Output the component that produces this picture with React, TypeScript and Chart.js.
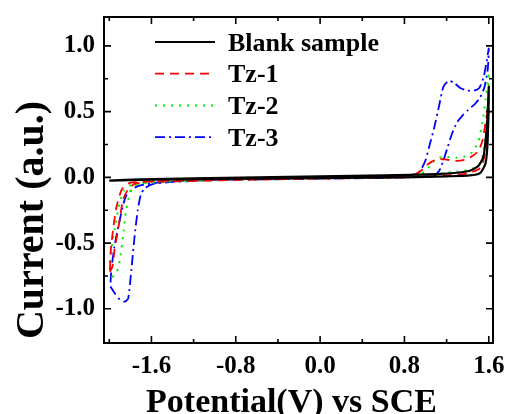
import React, { useEffect, useRef } from "react";
import { Chart, registerables } from "chart.js";
Chart.register(...registerables);

const seriesLabels = ["Blank sample", "Tz-1", "Tz-2", "Tz-3"];
const seriesColors = ["#000000", "#ff0000", "#00ee00", "#0000ff"];
const xTickValues = [-1.6, -0.8, 0.0, 0.8, 1.6];
const xMinorValues = [-2.0, -1.2, -0.4, 0.4, 1.2];
const yTickValues = [-1.0, -0.5, 0.0, 0.5, 1.0];
const yMinorValues = [-0.75, -0.25, 0.25, 0.75];
const xTitle = "Potential(V) vs SCE";
const yTitle = "Current (a.u.)";

const blankX = [-2.0, -1.6, -1.0, -0.4, 0.2, 0.8, 1.2, 1.42, 1.52, 1.57, 1.59, 1.6, 1.59, 1.58, 1.55, 1.5, 1.42, 1.3, 1.1, 0.6, 0.0, -0.6, -1.2, -1.7, -2.0];
const blankY = [-0.025, -0.018, -0.012, -0.008, -0.004, 0.0, 0.008, 0.015, 0.035, 0.11, 0.29, 0.69, 0.5, 0.37, 0.16, 0.086, 0.05, 0.035, 0.025, 0.015, 0.008, 0.0, -0.008, -0.015, -0.025];

const tz1X = [-1.995, -1.97, -1.95, -1.9, -1.87, -1.82, -1.76, -1.6, -1.0, -0.4, 0.2, 0.8, 0.9, 0.95, 1.0, 1.06, 1.12, 1.2, 1.3, 1.38, 1.44, 1.5, 1.54, 1.57, 1.59, 1.6, 1.59, 1.57, 1.54, 1.5, 1.4, 1.2, 1.0, 0.4, -0.2, -0.8, -1.4, -1.7, -1.8, -1.88, -1.93, -1.96, -1.985, -1.995];
const tz1Y = [-0.72, -0.68, -0.55, -0.32, -0.17, -0.09, -0.05, -0.03, -0.018, -0.01, -0.002, 0.012, 0.025, 0.045, 0.085, 0.12, 0.14, 0.135, 0.125, 0.135, 0.16, 0.2, 0.28, 0.42, 0.52, 0.6, 0.4, 0.22, 0.1, 0.06, 0.03, 0.015, 0.005, -0.005, -0.012, -0.02, -0.03, -0.035, -0.04, -0.09, -0.22, -0.37, -0.55, -0.72];

const tz2X = [-1.97, -1.93, -1.9, -1.87, -1.84, -1.8, -1.74, -1.6, -1.0, -0.4, 0.2, 0.8, 0.95, 1.01, 1.06, 1.12, 1.2, 1.3, 1.38, 1.44, 1.5, 1.54, 1.57, 1.59, 1.6, 1.59, 1.57, 1.54, 1.5, 1.42, 1.3, 1.2, 1.0, 0.4, -0.2, -0.8, -1.4, -1.7, -1.8, -1.86, -1.9, -1.95, -1.98, -1.995, -1.985, -1.97];
const tz2Y = [-0.76, -0.72, -0.63, -0.45, -0.25, -0.11, -0.055, -0.035, -0.018, -0.008, 0.0, 0.015, 0.03, 0.05, 0.11, 0.15, 0.155, 0.15, 0.16, 0.19, 0.27, 0.42, 0.6, 0.72, 0.8, 0.55, 0.32, 0.16, 0.09, 0.06, 0.045, 0.035, 0.015, 0.0, -0.01, -0.02, -0.03, -0.045, -0.06, -0.1, -0.19, -0.4, -0.55, -0.66, -0.73, -0.76];

const tz3X = [-1.99, -1.95, -1.9, -1.85, -1.82, -1.79, -1.76, -1.73, -1.7, -1.66, -1.58, -1.4, -1.0, -0.5, 0.0, 0.5, 0.8, 0.9, 0.95, 1.0, 1.04, 1.08, 1.13, 1.17, 1.22, 1.27, 1.33, 1.4, 1.46, 1.51, 1.55, 1.58, 1.6, 1.59, 1.56, 1.52, 1.47, 1.4, 1.35, 1.3, 1.25, 1.21, 1.17, 1.13, 1.08, 1.0, 0.5, 0.0, -0.5, -1.0, -1.4, -1.6, -1.74, -1.84, -1.9, -1.95, -1.98, -1.99];
const tz3Y = [-0.83, -0.88, -0.93, -0.945, -0.92, -0.7, -0.45, -0.25, -0.13, -0.08, -0.05, -0.035, -0.02, -0.01, 0.0, 0.01, 0.015, 0.025, 0.05, 0.13, 0.25, 0.37, 0.55, 0.69, 0.735, 0.72, 0.68, 0.66, 0.66, 0.68, 0.76, 0.88, 0.98, 0.82, 0.69, 0.61, 0.56, 0.51, 0.47, 0.42, 0.33, 0.23, 0.13, 0.05, 0.015, 0.005, -0.005, -0.01, -0.015, -0.02, -0.03, -0.045, -0.07, -0.14, -0.32, -0.52, -0.7, -0.83];

const seriesX = [blankX, tz1X, tz2X, tz3X];
const seriesY = [blankY, tz1Y, tz2Y, tz3Y];
const seriesDash = [[], [9, 6], [2, 6], [10, 4, 2, 4]];
const seriesWidth = [2.2, 1.8, 2, 1.8];

const FONT = "'Liberation Serif', 'Times New Roman', serif";

const decorPlugin = {
  id: "decor",
  afterDraw(chart: any) {
    const { ctx, chartArea: a, scales } = chart;
    const xs = scales.x;
    const ys = scales.y;
    ctx.save();
    ctx.strokeStyle = "#000";
    ctx.setLineDash([]);
    ctx.lineWidth = 2;
    ctx.strokeRect(a.left, a.top, a.right - a.left, a.bottom - a.top);
    ctx.lineWidth = 1.6;
    const xt = (vals: number[], len: number) => {
      vals.forEach((v) => {
        const p = xs.getPixelForValue(v);
        ctx.beginPath();
        ctx.moveTo(p, a.bottom);
        ctx.lineTo(p, a.bottom - len);
        ctx.moveTo(p, a.top);
        ctx.lineTo(p, a.top + len);
        ctx.stroke();
      });
    };
    const yt = (vals: number[], len: number) => {
      vals.forEach((v) => {
        const p = ys.getPixelForValue(v);
        ctx.beginPath();
        ctx.moveTo(a.left, p);
        ctx.lineTo(a.left + len, p);
        ctx.moveTo(a.right, p);
        ctx.lineTo(a.right - len, p);
        ctx.stroke();
      });
    };
    xt(xTickValues, 7);
    xt(xMinorValues, 4);
    yt(yTickValues, 7);
    yt(yMinorValues, 4);

    // legend
    const lx0 = a.left + 51;
    const lx1 = a.left + 111;
    const tx = a.left + 124;
    chart.data.datasets.forEach((ds: any, i: number) => {
      const y = a.top + 25 + i * 31.7;
      ctx.beginPath();
      ctx.strokeStyle = ds.borderColor;
      ctx.lineWidth = ds.borderWidth;
      ctx.setLineDash(ds.borderDash || []);
      ctx.moveTo(lx0, y);
      ctx.lineTo(lx1, y);
      ctx.stroke();
      ctx.setLineDash([]);
      ctx.fillStyle = "#000";
      ctx.font = `bold 26px ${FONT}`;
      ctx.textAlign = "left";
      ctx.textBaseline = "middle";
      ctx.fillText(ds.label, tx, y + 2);
    });

    // axis titles
    ctx.fillStyle = "#000";
    ctx.font = `bold 34px ${FONT}`;
    ctx.textAlign = "center";
    ctx.textBaseline = "alphabetic";
    ctx.fillText(xTitle, (a.left + a.right) / 2 - 7, 412);
    ctx.save();
    ctx.translate(43, 220);
    ctx.rotate(-Math.PI / 2);
    ctx.font = `bold 40px ${FONT}`;
    ctx.fillText(yTitle, 0, 0);
    ctx.restore();
    ctx.restore();
  },
};

export default function App() {
  const ref = useRef<HTMLCanvasElement | null>(null);
  useEffect(() => {
    if (!ref.current) return;
    const datasets = seriesLabels.map((label, i) => ({
      label,
      data: seriesX[i].map((x, j) => ({ x, y: seriesY[i][j] })),
      borderColor: seriesColors[i],
      backgroundColor: seriesColors[i],
      borderWidth: seriesWidth[i],
      borderDash: seriesDash[i],
      pointRadius: 0,
      tension: 0.2,
      fill: false,
    }));
    const chart = new Chart(ref.current, {
      type: "line",
      data: { datasets },
      options: {
        responsive: false,
        animation: false,
        devicePixelRatio: 1,
        layout: { padding: { left: 0, right: 15, top: 17, bottom: 0 } },
        plugins: { legend: { display: false }, tooltip: { enabled: false } },
        scales: {
          x: {
            type: "linear",
            min: -2.05,
            max: 1.64,
            grid: { display: false, drawTicks: false },
            border: { display: false },
            afterBuildTicks: (s: any) => {
              s.ticks = xTickValues.map((v) => ({ value: v }));
            },
            afterFit: (s: any) => {
              s.height = 71;
              s.paddingLeft = 0;
              s.paddingRight = 0;
              s.paddingTop = 0;
              s.paddingBottom = 0;
            },
            ticks: {
              color: "#000",
              padding: 9,
              maxRotation: 0,
              autoSkip: false,
              font: { family: FONT, size: 25, weight: "bold" },
              callback: (v: any) => Number(v).toFixed(1),
            },
          },
          y: {
            type: "linear",
            min: -1.26,
            max: 1.22,
            grid: { display: false, drawTicks: false },
            border: { display: false },
            afterBuildTicks: (s: any) => {
              s.ticks = yTickValues.map((v) => ({ value: v }));
            },
            afterFit: (s: any) => {
              s.width = 104;
              s.paddingLeft = 0;
              s.paddingRight = 0;
              s.paddingTop = 0;
              s.paddingBottom = 0;
            },
            ticks: {
              color: "#000",
              padding: 9,
              autoSkip: false,
              font: { family: FONT, size: 25, weight: "bold" },
              callback: (v: any) => Number(v).toFixed(1),
            },
          },
        },
      },
      plugins: [decorPlugin],
    });
    return () => chart.destroy();
  }, []);
  return (
    <div style={{ position: "absolute", left: 0, top: 0, width: 508, height: 414, background: "#fff" }}>
      <canvas ref={ref} width={508} height={414} />
    </div>
  );
}
